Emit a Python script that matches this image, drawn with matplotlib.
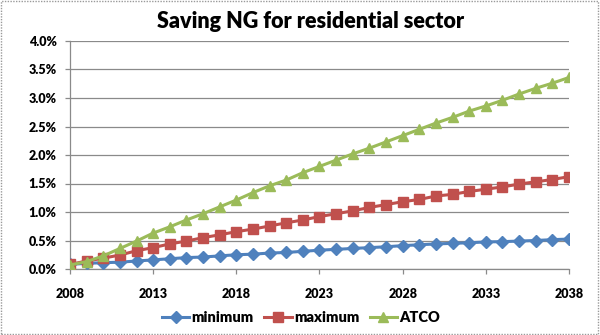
import matplotlib
matplotlib.use("Agg")
import matplotlib.pyplot as plt
from matplotlib.patches import Rectangle
from matplotlib.ticker import FuncFormatter, MultipleLocator

years = list(range(2008, 2039))

minimum = [0.08, 0.10, 0.11, 0.12, 0.14, 0.16, 0.18, 0.20, 0.21, 0.23,
           0.25, 0.26, 0.28, 0.29, 0.31, 0.33, 0.345, 0.36, 0.375, 0.39,
           0.41, 0.425, 0.44, 0.45, 0.46, 0.475, 0.48, 0.49, 0.50, 0.515,
           0.525]

maximum = [0.08, 0.14, 0.19, 0.245, 0.32, 0.375, 0.44, 0.49, 0.55, 0.60,
           0.655, 0.70, 0.755, 0.81, 0.86, 0.92, 0.97, 1.02, 1.08, 1.13,
           1.18, 1.22, 1.28, 1.31, 1.36, 1.40, 1.44, 1.49, 1.53, 1.57,
           1.62]

atco = [0.07, 0.13, 0.23, 0.36, 0.49, 0.63, 0.74, 0.86, 0.97, 1.09,
        1.21, 1.34, 1.46, 1.56, 1.69, 1.80, 1.91, 2.02, 2.12, 2.23,
        2.34, 2.45, 2.56, 2.66, 2.77, 2.86, 2.96, 3.07, 3.17, 3.26,
        3.36]

series_names = ["minimum", "maximum", "ATCO"]
title = "Saving NG for residential sector"
x_ticks = [2008, 2013, 2018, 2023, 2028, 2033, 2038]

plt.rcParams['font.family'] = ['Lato', 'DejaVu Sans']

fig = plt.figure(figsize=(6.0, 3.35), dpi=100)
fig.patch.set_facecolor("white")

# dotted frame around the chart area
fig.patches.append(Rectangle((0.002, 0.003), 0.994, 0.994, transform=fig.transFigure,
                             fill=False, edgecolor="#9a9a9a", linewidth=1.0,
                             linestyle=(0, (1, 1))))

ax = fig.add_axes([70 / 600, 1 - 269 / 335, 499 / 600, 228 / 335])

styles = [
    dict(color="#4F81BD", marker="D", ms=6.0),
    dict(color="#C0504D", marker="s", ms=6.5),
    dict(color="#9BBB59", marker="^", ms=7.5),
]
for vals, name, st in zip([minimum, maximum, atco], series_names, styles):
    ax.plot(years, [v / 100 for v in vals], color=st["color"], lw=2.2,
            marker=st["marker"], markersize=st["ms"], markerfacecolor=st["color"],
            markeredgecolor=st["color"], label=name, zorder=3)

ax.set_xlim(2008, 2038)
ax.set_ylim(0, 0.04)
ax.set_xticks(x_ticks)
ax.yaxis.set_major_locator(MultipleLocator(0.005))
ax.yaxis.set_major_formatter(FuncFormatter(lambda v, p: f"{v * 100:.1f}%"))

ax.grid(axis="y", color="#8a8a8a", linewidth=0.9)
ax.set_axisbelow(True)
for s in ["top", "right"]:
    ax.spines[s].set_visible(False)
for s in ["left", "bottom"]:
    ax.spines[s].set_color("#8a8a8a")
    ax.spines[s].set_linewidth(0.9)

ax.tick_params(axis="both", direction="out", length=3.6, width=0.9, color="#8a8a8a",
               labelsize=9, labelcolor="black")
ax.tick_params(axis="y", pad=6)
ax.tick_params(axis="x", pad=10)
for lab in ax.get_xticklabels() + ax.get_yticklabels():
    lab.set_fontweight("heavy")

fig.text(0.517, 1 - 22 / 335, title, ha="center", va="center",
         fontsize=15.5, fontweight="heavy")

leg = fig.legend(loc="center", bbox_to_anchor=(301 / 600, 1 - 318 / 335), ncol=3,
                 frameon=False, prop=dict(size=10.5, weight="heavy"),
                 handlelength=1.9, columnspacing=0.7, handletextpad=0.15)

fig.savefig("out.png", dpi=100, facecolor="white")
